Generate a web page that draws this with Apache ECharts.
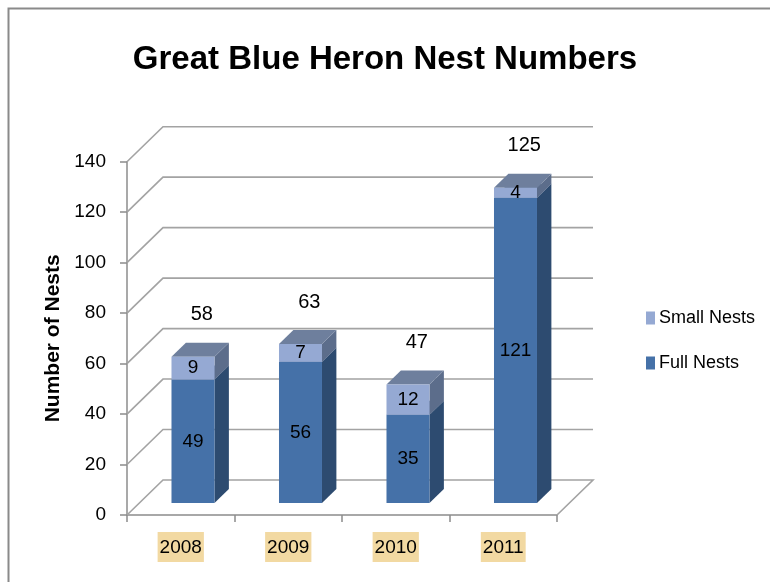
<!DOCTYPE html>
<html>
<head>
<meta charset="utf-8">
<script src="https://cdn.jsdelivr.net/npm/echarts@6/dist/echarts.min.js"></script>
<style>html,body{margin:0;padding:0;background:#fff}#c{width:770px;height:582px}</style>
</head>
<body>
<div id="c"></div>
<script>
// ---- data ----
const categories = ['2008', '2009', '2010', '2011'];
const fullNests = [49, 56, 35, 121];
const smallNests = [9, 7, 12, 4];
const totals = [58, 63, 47, 125];
const yTicks = [0, 20, 40, 60, 80, 100, 120, 140];

// ---- 3D look (pixel offsets for depth) ----
const DEPTH = [36, -35];          // wall depth vector
const BAR_FRONT = 0.34, BAR_BACK = 0.74; // bar depth position as fraction of wall depth
const FONT = 'Liberation Sans';

function boxItem(params, api, colors) {
  const i = api.value(0);
  const val = api.value(1);
  const base = api.value(2);
  const band = api.size([1, 0])[0];
  const hw = band * 0.2;
  const c = api.coord([i, 0]);
  const pBot = api.coord([i, base]);
  const pTop = api.coord([i, base + val]);
  const fx = DEPTH[0] * BAR_FRONT, fy = DEPTH[1] * BAR_FRONT;
  const ddx = DEPTH[0] * (BAR_BACK - BAR_FRONT), ddy = DEPTH[1] * (BAR_BACK - BAR_FRONT);
  const x0 = c[0] - hw + fx, x1 = c[0] + hw + fx;
  const yT = pTop[1] + fy, yB = pBot[1] + fy;
  return {
    type: 'group',
    children: [
      { type: 'polygon', shape: { points: [[x1, yT], [x1 + ddx, yT + ddy], [x1 + ddx, yB + ddy], [x1, yB]] },
        style: { fill: colors.side } },
      { type: 'polygon', shape: { points: [[x0, yT], [x1, yT], [x1 + ddx, yT + ddy], [x0 + ddx, yT + ddy]] },
        style: { fill: colors.top } },
      { type: 'rect', shape: { x: x0, y: yT, width: x1 - x0, height: yB - yT },
        style: { fill: colors.front },
        textContent: { style: { text: String(val), fontFamily: FONT, fontSize: 19, fill: '#000' } },
        textConfig: { position: 'inside' } }
    ]
  };
}

const chart = echarts.init(document.getElementById('c'), null, { renderer: 'canvas' });
chart.setOption({
  backgroundColor: '#fff',
  animation: false,
  title: {
    text: 'Great Blue Heron Nest Numbers',
    left: 'center', top: 38,
    padding: [5, 0, 5, 14],
    textStyle: { fontFamily: FONT, fontWeight: 'bold', fontSize: 33, color: '#000' }
  },
  graphic: [{
    type: 'rect', left: 6, top: 6, shape: { x: 0, y: 0, width: 800, height: 600 },
    style: { fill: 'none', stroke: '#8a8a8a', lineWidth: 2 }, silent: true
  }],
  legend: {
    data: ['Small Nests', 'Full Nests'],
    orient: 'vertical', left: 641, top: 304,
    itemWidth: 9, itemHeight: 13, itemGap: 27, icon: 'rect',
    textStyle: { fontFamily: FONT, fontSize: 18, color: '#000', padding: [0, 0, 0, -1] }
  },
  grid: { left: 127, right: 213, top: 161.7, bottom: 67 },
  xAxis: {
    type: 'category', data: categories, boundaryGap: true,
    axisLine: { show: true, lineStyle: { color: '#8c8c8c', width: 1.5 } },
    axisTick: { show: true, length: 7, alignWithLabel: false, lineStyle: { color: '#8c8c8c', width: 1.5 } },
    axisLabel: { margin: 17, fontFamily: FONT, fontSize: 19, color: '#000',
      backgroundColor: '#f2d9a2', padding: [6, 2, 5, 2] },
    splitLine: { show: false }
  },
  yAxis: {
    type: 'value', min: 0, max: 140, interval: 20,
    name: 'Number of Nests', nameLocation: 'middle', nameGap: 62,
    nameTextStyle: { fontFamily: FONT, fontWeight: 'bold', fontSize: 21, color: '#000' },
    axisLine: { show: true, lineStyle: { color: '#8c8c8c', width: 1.5 } },
    axisTick: { show: true, length: 7, lineStyle: { color: '#8c8c8c', width: 1.5 } },
    axisLabel: { margin: 21, fontFamily: FONT, fontSize: 19, color: '#000' },
    splitLine: { show: false }
  },
  series: [
    {
      name: 'walls', type: 'custom', silent: true, z: 1,
      encode: { x: 0, y: 1 },
      data: yTicks.map(v => [0, v]),
      renderItem: function (params, api) {
        const cs = params.coordSys;
        const v = api.value(1);
        const y = api.coord([0, v])[1];
        const x0 = cs.x, x1 = cs.x + cs.width;
        const pts = [[x0, y], [x0 + DEPTH[0], y + DEPTH[1]], [x1 + DEPTH[0], y + DEPTH[1]]];
        if (v === 0) pts.push([x1, y]);
        return { type: 'polyline', shape: { points: pts },
          style: { stroke: '#a3a3a3', lineWidth: 1.6, fill: null } };
      }
    },
    {
      name: 'Full Nests', type: 'custom', z: 2,
      itemStyle: { color: '#4571a8' },
      encode: { x: 0, y: 1 },
      data: fullNests.map((v, i) => [i, v, 0]),
      renderItem: (p, api) => boxItem(p, api, { front: '#4571a8', side: '#2d4b70', top: '#6b7f9e' })
    },
    {
      name: 'Small Nests', type: 'custom', z: 3,
      itemStyle: { color: '#95a9d3' },
      encode: { x: 0, y: 1 },
      data: smallNests.map((v, i) => [i, v, fullNests[i]]),
      renderItem: (p, api) => boxItem(p, api, { front: '#95a9d3', side: '#5c6d8b', top: '#6e7f9d' })
    },
    {
      name: 'Total', type: 'custom', z: 4, silent: true,
      encode: { x: 0, y: 1 },
      data: totals.map((v, i) => [i, v]),
      renderItem: function (params, api) {
        const p = api.coord([api.value(0), api.value(1)]);
        return { type: 'text', x: p[0] + 21, y: p[1] - 54,
          style: { text: String(api.value(1)), fontFamily: FONT, fontSize: 20, fill: '#000',
            align: 'center', verticalAlign: 'middle' } };
      }
    }
  ]
});
</script>
</body>
</html>
